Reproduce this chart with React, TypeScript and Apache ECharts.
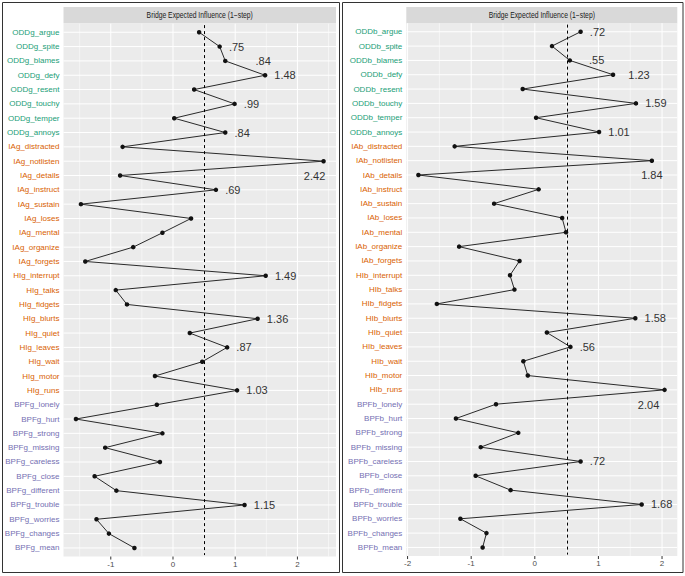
import React, { useEffect, useRef } from 'react';
import * as echarts from 'echarts';

const FONT = "'Liberation Sans', Arial, sans-serif";
const TITLE = 'Bridge Expected Influence (1\u2212step)';
const THRESHOLD = 0.51;

const leftCategories = [
  'ODDg_argue', 'ODDg_spite', 'ODDg_blames', 'ODDg_defy', 'ODDg_resent', 'ODDg_touchy', 'ODDg_temper', 'ODDg_annoys',
  'IAg_distracted', 'IAg_notlisten', 'IAg_details', 'IAg_instruct', 'IAg_sustain', 'IAg_loses', 'IAg_mental', 'IAg_organize', 'IAg_forgets',
  'HIg_interrupt', 'HIg_talks', 'HIg_fidgets', 'HIg_blurts', 'HIg_quiet', 'HIg_leaves', 'HIg_wait', 'HIg_motor', 'HIg_runs',
  'BPFg_lonely', 'BPFg_hurt', 'BPFg_strong', 'BPFg_missing', 'BPFg_careless', 'BPFg_close', 'BPFg_different', 'BPFg_trouble', 'BPFg_worries', 'BPFg_changes', 'BPFg_mean',
];
const leftValues = [
  0.42, 0.75, 0.84, 1.48, 0.34, 0.99, 0.02, 0.84,
  -0.81, 2.42, -0.85, 0.69, -1.48, 0.29, -0.17, -0.64, -1.41,
  1.49, -0.92, -0.74, 1.36, 0.27, 0.87, 0.47, -0.29, 1.03,
  -0.26, -1.56, -0.17, -1.09, -0.21, -1.26, -0.91, 1.15, -1.23, -1.03, -0.62,
];

const rightCategories = [
  'ODDb_argue', 'ODDb_spite', 'ODDb_blames', 'ODDb_defy', 'ODDb_resent', 'ODDb_touchy', 'ODDb_temper', 'ODDb_annoys',
  'IAb_distracted', 'IAb_notlisten', 'IAb_details', 'IAb_instruct', 'IAb_sustain', 'IAb_loses', 'IAb_mental', 'IAb_organize', 'IAb_forgets',
  'HIb_interrupt', 'HIb_talks', 'HIb_fidgets', 'HIb_blurts', 'HIb_quiet', 'HIb_leaves', 'HIb_wait', 'HIb_motor', 'HIb_runs',
  'BPFb_lonely', 'BPFb_hurt', 'BPFb_strong', 'BPFb_missing', 'BPFb_careless', 'BPFb_close', 'BPFb_different', 'BPFb_trouble', 'BPFb_worries', 'BPFb_changes', 'BPFb_mean',
];
const rightValues = [
  0.72, 0.27, 0.55, 1.23, -0.19, 1.59, 0.02, 1.01,
  -1.26, 1.84, -1.83, 0.06, -0.64, 0.43, 0.49, -1.19, -0.24,
  -0.39, -0.32, -1.54, 1.58, 0.19, 0.56, -0.18, -0.11, 2.04,
  -0.61, -1.24, -0.26, -0.85, 0.72, -0.93, -0.38, 1.68, -1.17, -0.76, -0.82,
];

const groupColors: Record<string, string> = {
  ODD: '#1B9E77',
  IA: '#D95F02',
  HI: '#D95F02',
  BPF: '#7570B3',
};

const labelTweaks: Record<string, { position?: string; offset: [number, number] }> = {
  IAg_notlisten: { position: 'bottom', offset: [-9, 0] },
  ODDg_blames: { offset: [21, 0] },
  IAb_notlisten: { position: 'bottom', offset: [0, 0] },
  HIb_runs: { position: 'bottom', offset: [-16, 0] },
  ODDb_blames: { offset: [10, 0] },
  ODDb_defy: { offset: [6, 0] },
};

const panels = [
  { cats: leftCategories, vals: leftValues, xMin: -1.76, xMax: 2.62, left: 63.5, top: 25.1, width: 272.5, height: 530 },
  { cats: rightCategories, vals: rightValues, xMin: -2.02, xMax: 2.24, left: 406.3, top: 24.6, width: 271, height: 530 },
];

function catColor(name: string) {
  const key = name.match(/^(ODD|IA|HI|BPF)/);
  return key ? groupColors[key[1]] : '#4D4D4D';
}

function fmt(v: number) {
  return v.toFixed(2).replace(/^0\./, '.');
}

function buildOption() {
  const grid: any[] = [];
  const xAxis: any[] = [];
  const yAxis: any[] = [];
  const series: any[] = [];
  const graphic: any[] = [];

  panels.forEach((p, i) => {
    const n = p.cats.length;
    grid.push({ left: p.left, top: p.top, width: p.width, height: p.height, containLabel: false });
    xAxis.push({
      type: 'value', gridIndex: i, min: p.xMin, max: p.xMax,
      axisLine: { show: false }, axisTick: { show: false }, splitLine: { show: false },
      axisLabel: {
        margin: 5, fontSize: 8, color: '#4D4D4D', fontFamily: FONT,
        formatter: (v: number) => (Math.abs(v - Math.round(v)) < 1e-9 ? String(Math.round(v)) : ''),
      },
    });
    yAxis.push({
      type: 'category', gridIndex: i, data: p.cats, inverse: true,
      axisLine: { show: false },
      axisTick: { show: true, alignWithLabel: true, length: 3, lineStyle: { color: '#333', width: 1 } },
      splitLine: { show: false },
      axisLabel: {
        margin: 4, fontSize: 8, fontFamily: FONT, interval: 0,
        color: (val: string) => catColor(val),
      },
    });
    const xMin = p.xMin, xMax = p.xMax;
    series.push({
      type: 'custom', xAxisIndex: i, yAxisIndex: i, z: 1, silent: true,
      data: [[0, 0]],
      renderItem: (params: any, api: any) => {
        const cs = params.coordSys;
        const band = cs.height / n;
        const top = cs.y - band * 0.1;
        const bottom = cs.y + cs.height + band * 0.1;
        const children: any[] = [
          { type: 'rect', shape: { x: cs.x, y: top, width: cs.width, height: bottom - top }, style: { fill: '#EBEBEB' } },
        ];
        for (let k = 0; k < n; k++) {
          const y = api.coord([xMin, k])[1];
          children.push({ type: 'line', shape: { x1: cs.x, y1: y, x2: cs.x + cs.width, y2: y }, style: { stroke: '#FFFFFF', lineWidth: 1 } });
        }
        for (let v = Math.ceil(xMin * 2) / 2; v <= xMax; v += 0.5) {
          const x = api.coord([v, 0])[0];
          const major = Math.abs(v - Math.round(v)) < 1e-9;
          children.push({ type: 'line', shape: { x1: x, y1: top, x2: x, y2: bottom }, style: { stroke: '#FFFFFF', lineWidth: major ? 1 : 0.5 } });
          if (major) {
            children.push({ type: 'line', shape: { x1: x, y1: bottom, x2: x, y2: bottom + 3 }, style: { stroke: '#333333', lineWidth: 1 } });
          }
        }
        return { type: 'group', children };
      },
    });
    series.push({
      type: 'line', xAxisIndex: i, yAxisIndex: i, z: 3, silent: true,
      symbol: 'circle', symbolSize: 4.5,
      itemStyle: { color: '#111111' },
      lineStyle: { color: '#2A2A2A', width: 1 },
      data: p.vals.map((v, k) => {
        const name = p.cats[k];
        const tw = labelTweaks[name];
        return {
          value: [v, k],
          label: v > THRESHOLD ? {
            show: true,
            position: tw?.position ?? 'right',
            distance: 7,
            offset: tw?.offset ?? [0, 0],
            formatter: fmt(v),
            fontSize: 11,
            fontFamily: FONT,
            color: '#333333',
          } : { show: false },
        };
      }),
      markLine: {
        silent: true, symbol: ['none', 'none'], label: { show: false },
        lineStyle: { color: '#000000', type: [3, 3], width: 1 },
        data: [{ xAxis: THRESHOLD }],
      },
    });
    graphic.push({
      type: 'rect', shape: { x: p.left, y: 7, width: p.width, height: 16.6 }, style: { fill: '#D9D9D9' }, z: 0,
    });
    graphic.push({
      type: 'text', x: p.left + p.width / 2, y: 15.3, scaleX: 0.8,
      style: { text: TITLE, fill: '#1A1A1A', font: `8.5px ${FONT}`, textAlign: 'center', textVerticalAlign: 'middle' },
    });
  });

  graphic.push({ type: 'rect', shape: { x: 2.5, y: 2.5, width: 337, height: 570 }, style: { fill: 'none', stroke: '#333333', lineWidth: 1 } });
  graphic.push({ type: 'rect', shape: { x: 342.5, y: 2.5, width: 340.5, height: 570 }, style: { fill: 'none', stroke: '#333333', lineWidth: 1 } });

  return {
    animation: false,
    backgroundColor: '#FFFFFF',
    textStyle: { fontFamily: FONT },
    grid, xAxis, yAxis, series, graphic,
  };
}

export default function App() {
  const ref = useRef<HTMLDivElement>(null);
  useEffect(() => {
    document.body.style.margin = '0';
    if (!ref.current) return;
    const chart = echarts.init(ref.current, undefined, { renderer: 'svg' });
    chart.setOption(buildOption() as any);
    return () => chart.dispose();
  }, []);
  return <div ref={ref} style={{ width: 685, height: 576 }} />;
}
